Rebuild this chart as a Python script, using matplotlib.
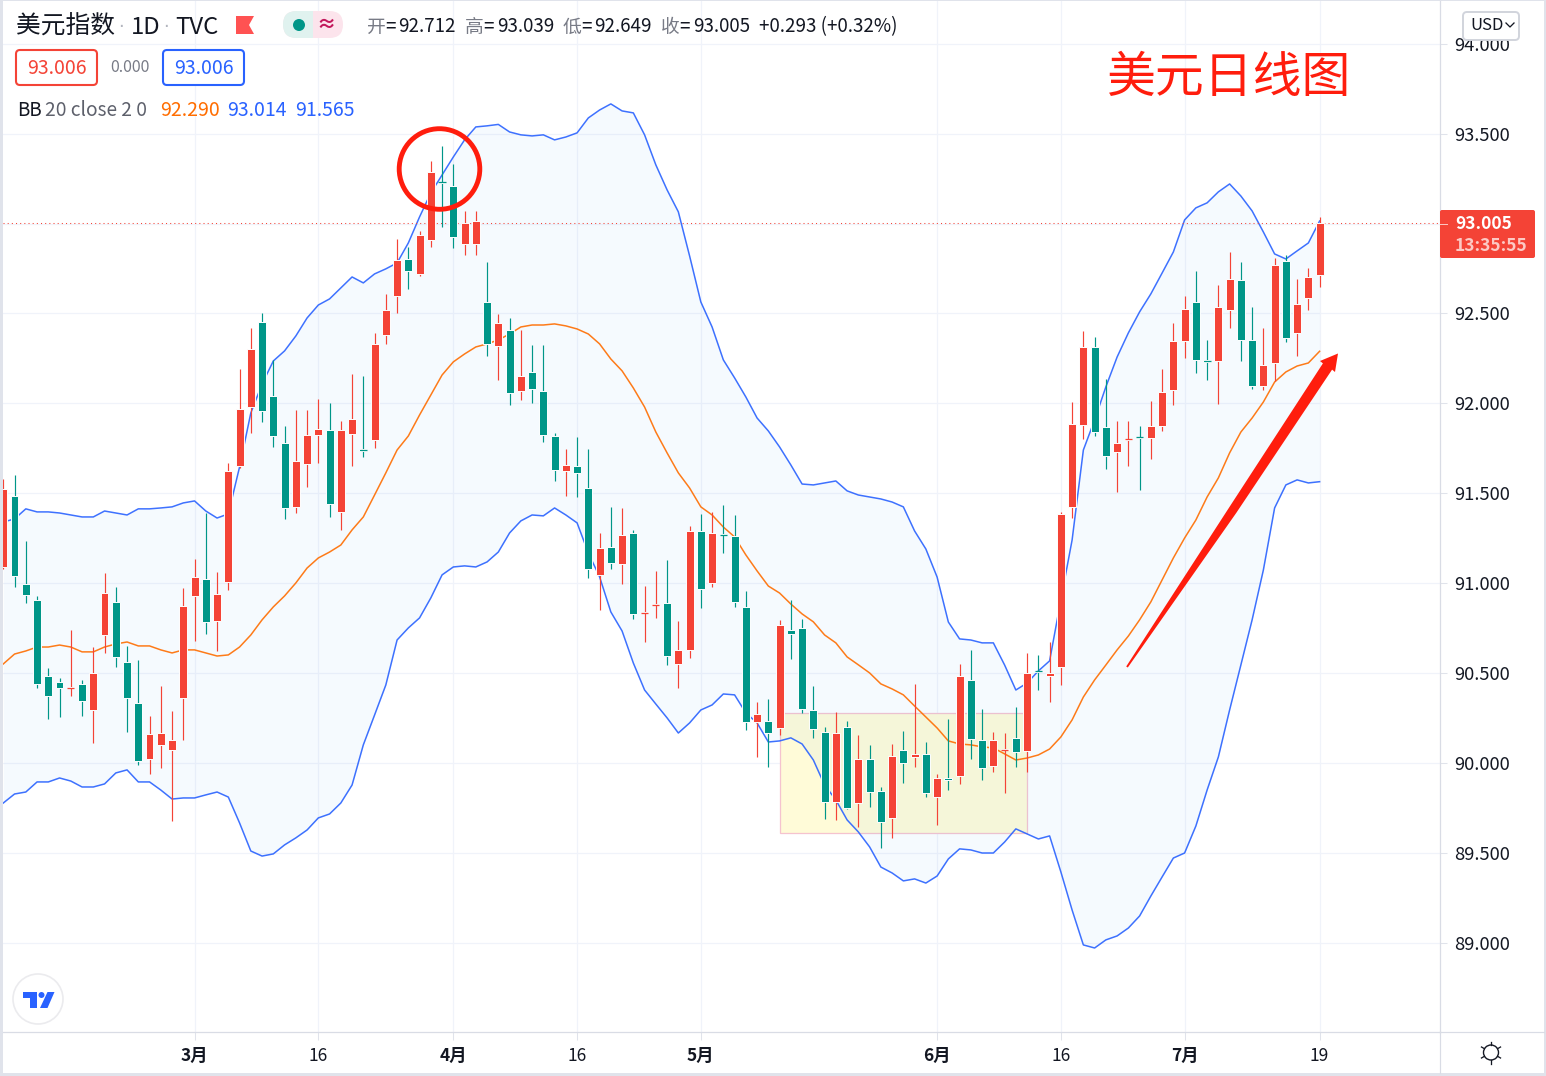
import matplotlib
matplotlib.use('Agg')
import matplotlib.pyplot as plt
import numpy as np
from matplotlib.patches import Circle, FancyBboxPatch, Polygon, Rectangle
from matplotlib.lines import Line2D
from matplotlib.transforms import IdentityTransform

plt.rcParams['font.family'] = ['Noto Sans CJK SC', 'DejaVu Sans']

# velas diarias, valores
opens = [91.091, 91.486, 90.997, 90.908, 90.486, 90.452, 90.416, 90.441, 90.296, 90.713,
         90.897, 90.563, 90.335, 90.024, 90.102, 90.074, 90.363, 90.930, 91.025, 90.791,
         91.008, 91.652, 91.980, 92.453, 92.042, 91.780, 91.425, 91.664, 91.825, 91.853,
         91.397, 91.830, 91.744, 91.797, 92.381, 92.597, 92.803, 92.720, 92.909, 93.232,
         93.209, 92.887, 92.887, 92.564, 92.319, 92.408, 92.069, 92.175, 92.069, 91.819,
         91.625, 91.652, 91.530, 91.047, 91.202, 91.108, 91.280, 90.833, 90.878, 90.891,
         90.552, 90.630, 91.291, 91.002, 91.272, 91.263, 90.869, 90.230, 90.235, 90.196,
         90.741, 90.752, 90.296, 90.174, 89.785, 90.202, 89.780, 90.024, 89.846, 89.696,
         90.074, 90.035, 90.052, 89.813, 89.919, 89.930, 90.463, 90.129, 89.985, 90.071,
         90.141, 90.069, 90.513, 90.486, 90.535, 91.425, 91.880, 92.314, 91.869, 91.730,
         91.797, 91.814, 91.808, 91.875, 92.075, 92.347, 92.564, 92.239, 92.236, 92.520,
         92.686, 92.353, 92.097, 92.225, 92.792, 92.392, 92.586, 92.712]
highs = [91.580, 91.602, 91.236, 90.930, 90.530, 90.475, 90.741, 90.463, 90.646, 91.058,
         90.980, 90.652, 90.574, 90.263, 90.430, 90.291, 90.975, 91.136, 91.392, 91.063,
         91.669, 92.192, 92.419, 92.503, 92.242, 91.875, 91.964, 91.964, 92.025, 92.003,
         91.903, 92.164, 92.153, 92.392, 92.609, 92.914, 92.870, 92.959, 93.348, 93.431,
         93.331, 93.070, 93.070, 92.786, 92.497, 92.475, 92.408, 92.325, 92.325, 91.836,
         91.747, 91.814, 91.747, 91.280, 91.425, 91.419, 91.297, 90.985, 91.069, 91.130,
         90.791, 91.319, 91.386, 91.397, 91.436, 91.380, 90.958, 90.341, 90.358, 90.797,
         90.908, 90.802, 90.430, 90.202, 90.285, 90.235, 90.157, 90.102, 89.868, 90.107,
         90.180, 90.441, 90.118, 89.941, 90.246, 90.552, 90.630, 90.302, 90.174, 90.168,
         90.313, 90.613, 90.602, 90.674, 91.397, 92.008, 92.403, 92.370, 92.136, 91.903,
         91.903, 91.875, 92.014, 92.192, 92.447, 92.597, 92.736, 92.353, 92.659, 92.842,
         92.786, 92.536, 92.419, 92.808, 92.825, 92.692, 92.753, 93.039]
lows = [91.080, 90.980, 90.891, 90.419, 90.246, 90.257, 90.374, 90.263, 90.113, 90.613,
        90.535, 90.174, 89.991, 89.941, 89.974, 89.679, 90.129, 90.680, 90.719, 90.624,
        90.963, 91.641, 91.836, 91.897, 91.758, 91.358, 91.392, 91.536, 91.669, 91.369,
        91.297, 91.652, 91.703, 91.753, 92.331, 92.503, 92.636, 92.709, 92.870, 92.981,
        92.865, 92.825, 92.825, 92.264, 92.130, 91.992, 92.019, 92.003, 91.786, 91.569,
        91.486, 91.480, 91.030, 90.852, 91.080, 90.997, 90.802, 90.674, 90.808, 90.547,
        90.419, 90.586, 90.863, 90.980, 91.169, 90.869, 90.185, 90.035, 89.980, 90.157,
        90.580, 90.280, 90.141, 89.690, 89.685, 89.746, 89.646, 89.757, 89.529, 89.585,
        89.891, 89.980, 89.813, 89.657, 89.851, 89.885, 90.024, 89.907, 89.952, 89.835,
        89.980, 89.952, 90.407, 90.341, 90.435, 91.364, 91.803, 91.819, 91.636, 91.508,
        91.652, 91.519, 91.691, 91.847, 91.992, 92.253, 92.170, 92.130, 91.997, 92.419,
        92.236, 92.080, 92.075, 92.125, 92.342, 92.264, 92.520, 92.649]
closes = [91.524, 91.041, 90.936, 90.441, 90.374, 90.419, 90.424, 90.347, 90.502, 90.947,
          90.591, 90.363, 90.013, 90.163, 90.168, 90.129, 90.875, 91.036, 90.786, 90.941,
          91.625, 91.969, 92.303, 91.958, 91.819, 91.419, 91.680, 91.825, 91.858, 91.441,
          91.853, 91.914, 91.738, 92.331, 92.520, 92.797, 92.736, 92.937, 93.287, 93.226,
          92.926, 93.003, 93.014, 92.331, 92.447, 92.058, 92.153, 92.080, 91.825, 91.630,
          91.658, 91.614, 91.080, 91.197, 91.113, 91.269, 90.830, 90.839, 90.884, 90.597,
          90.630, 91.291, 90.969, 91.280, 91.266, 90.897, 90.230, 90.274, 90.169, 90.769,
          90.719, 90.302, 90.191, 89.785, 90.168, 89.751, 90.024, 89.840, 89.674, 90.041,
          90.002, 90.052, 89.835, 89.919, 89.907, 90.486, 90.135, 89.974, 90.129, 90.077,
          90.063, 90.502, 90.507, 90.502, 91.386, 91.886, 92.314, 91.841, 91.708, 91.780,
          91.803, 91.808, 91.875, 92.064, 92.347, 92.525, 92.242, 92.233, 92.536, 92.692,
          92.353, 92.097, 92.214, 92.770, 92.364, 92.553, 92.703, 93.005]

# bandas de Bollinger
bb_upper = [91.341, 91.358, 91.414, 91.397, 91.397, 91.391, 91.380, 91.369, 91.369, 91.402,
            91.391, 91.380, 91.414, 91.414, 91.419, 91.425, 91.447, 91.458, 91.402, 91.363,
            91.386, 91.647, 91.947, 92.108, 92.236, 92.292, 92.375, 92.475, 92.547, 92.581,
            92.642, 92.703, 92.670, 92.720, 92.748, 92.781, 92.892, 93.037, 93.170, 93.270,
            93.370, 93.465, 93.537, 93.543, 93.551, 93.509, 93.493, 93.487, 93.493, 93.465,
            93.481, 93.504, 93.587, 93.631, 93.665, 93.626, 93.615, 93.493, 93.326, 93.187,
            93.065, 92.820, 92.564, 92.425, 92.242, 92.142, 92.036, 91.919, 91.847, 91.758,
            91.658, 91.552, 91.547, 91.558, 91.569, 91.514, 91.491, 91.480, 91.469, 91.452,
            91.425, 91.291, 91.191, 91.035, 90.785, 90.691, 90.685, 90.669, 90.669, 90.546,
            90.407, 90.446, 90.513, 90.569, 90.908, 91.241, 91.741, 91.908, 92.092, 92.258,
            92.392, 92.509, 92.609, 92.725, 92.842, 93.020, 93.087, 93.115, 93.176, 93.220,
            93.153, 93.070, 92.953, 92.831, 92.803, 92.848, 92.892, 93.014]
bb_mid = [90.552, 90.607, 90.624, 90.646, 90.646, 90.657, 90.646, 90.619, 90.619, 90.646,
          90.663, 90.674, 90.652, 90.652, 90.630, 90.613, 90.630, 90.630, 90.613, 90.596,
          90.602, 90.646, 90.713, 90.797, 90.869, 90.930, 91.002, 91.085, 91.141, 91.174,
          91.213, 91.297, 91.369, 91.491, 91.614, 91.741, 91.819, 91.936, 92.047, 92.158,
          92.231, 92.275, 92.314, 92.331, 92.353, 92.386, 92.425, 92.436, 92.436, 92.442,
          92.431, 92.414, 92.386, 92.331, 92.247, 92.181, 92.086, 91.980, 91.841, 91.725,
          91.614, 91.530, 91.425, 91.380, 91.313, 91.258, 91.158, 91.069, 90.985, 90.946,
          90.885, 90.830, 90.786, 90.713, 90.669, 90.591, 90.547, 90.502, 90.441, 90.413,
          90.380, 90.318, 90.257, 90.196, 90.124, 90.107, 90.102, 90.091, 90.085, 90.052,
          90.018, 90.029, 90.046, 90.079, 90.146, 90.241, 90.368, 90.463, 90.546, 90.630,
          90.707, 90.797, 90.897, 91.019, 91.141, 91.252, 91.352, 91.480, 91.586, 91.725,
          91.841, 91.919, 92.008, 92.119, 92.175, 92.208, 92.225, 92.290]
bb_lower = [89.779, 89.829, 89.840, 89.896, 89.896, 89.918, 89.901, 89.868, 89.868, 89.885,
            89.946, 89.963, 89.896, 89.896, 89.851, 89.801, 89.807, 89.807, 89.824, 89.840,
            89.812, 89.668, 89.512, 89.484, 89.496, 89.546, 89.585, 89.629, 89.696, 89.718,
            89.779, 89.879, 90.102, 90.268, 90.435, 90.685, 90.752, 90.808, 90.919, 91.047,
            91.091, 91.097, 91.091, 91.119, 91.174, 91.280, 91.347, 91.380, 91.375, 91.419,
            91.380, 91.336, 91.169, 91.036, 90.841, 90.735, 90.557, 90.407, 90.329, 90.252,
            90.168, 90.224, 90.296, 90.324, 90.385, 90.380, 90.280, 90.224, 90.118, 90.124,
            90.141, 90.107, 90.018, 89.879, 89.796, 89.685, 89.618, 89.535, 89.423, 89.390,
            89.346, 89.357, 89.334, 89.373, 89.468, 89.524, 89.518, 89.501, 89.501, 89.562,
            89.635, 89.607, 89.579, 89.596, 89.396, 89.184, 88.990, 88.973, 89.018, 89.040,
            89.084, 89.151, 89.262, 89.368, 89.473, 89.501, 89.651, 89.851, 90.035, 90.296,
            90.546, 90.797, 91.074, 91.419, 91.547, 91.575, 91.558, 91.565]

# ejes
price_ticks = [89.0, 89.5, 90.0, 90.5, 91.0, 91.5, 92.0, 92.5, 93.0, 93.5, 94.0]
date_pos = [17, 28, 40, 51, 62, 83, 94, 105, 117]
date_labels = ['3月', '16', '4月', '16', '5月', '6月', '16', '7月', '19']

# recuadro amarillo (indices de velas y precios)
box_start, box_end = 69, 91
box_low, box_high = 89.611, 90.278

RED = '#f44336'
GREEN = '#009688'
BLUE = '#2962ff'
ORANGE = '#ff6d00'
DARK = '#131722'
GREY = '#787b86'
BORDER = '#e0e3eb'
GRID = '#f0f3fa'
MARK = '#ff1d0d'

W, H = 1546, 1076
fig = plt.figure(figsize=(W / 100, H / 100), dpi=100, facecolor=BORDER)
pix = IdentityTransform()


def add_text(x, y, s, **kw):
    kw.setdefault('va', 'center')
    kw.setdefault('color', DARK)
    kw.setdefault('fontsize', 13.5)
    fig.text(x, H - y - 1, s, transform=pix, **kw)


def add_line(xs, ys, color, lw=1.0):
    fig.add_artist(Line2D(xs, [H - v for v in ys], color=color, lw=lw * 0.72, transform=pix))


# fondo blanco
fig.add_artist(Rectangle((3, H - 1073), 1541, 1072, facecolor='white', edgecolor='none',
                         transform=pix, zorder=-1))

# area del grafico en pixeles: x 3-1440, y 1-1032
ax = fig.add_axes([3 / W, (H - 1032) / H, 1437 / W, 1031 / H], facecolor='none')
ax.set_xlim(-0.027, 127.7)
ax.set_ylim(88.506, 94.237)

x = np.arange(len(closes))
o = np.array(opens)
c = np.array(closes)
colors = np.where(c >= o, RED, GREEN)

ax.add_patch(Rectangle((box_start, box_low), box_end - box_start, box_high - box_low,
                       facecolor='#fffbd8', edgecolor='#f5c3cf', lw=0.9, zorder=1))
ax.fill_between(x, bb_lower, bb_upper, color='#2196f3', alpha=0.045, lw=0, zorder=2)
ax.plot(x, bb_upper, color=BLUE, lw=1.1, alpha=0.9, zorder=3)
ax.plot(x, bb_lower, color=BLUE, lw=1.1, alpha=0.9, zorder=3)
ax.plot(x, bb_mid, color=ORANGE, lw=1.1, alpha=0.9, zorder=3)

# velas
ax.vlines(x, lows, highs, colors=colors, lw=0.85, zorder=4)
ax.bar(x, np.abs(c - o), bottom=np.minimum(o, c), width=0.7, color=colors,
       edgecolor='white', linewidth=0.7, zorder=5)
doji = np.abs(c - o) < 0.012
ax.hlines(((o + c) / 2)[doji], x[doji] - 0.32, x[doji] + 0.32, colors=colors[doji], lw=0.9, zorder=6)

ax.axhline(closes[-1], color=RED, lw=0.75, ls=(0, (1, 3)), zorder=3)

# la etiqueta 93.000 queda tapada por el precio actual
ax.set_yticks(price_ticks)
ax.set_yticklabels(['' if v == 93.0 else '%.3f' % v for v in price_ticks], va='center_baseline')
ax.yaxis.tick_right()
ax.set_xticks(date_pos)
ax.set_xticklabels(date_labels)
ax.grid(True, color=GRID, lw=0.9, zorder=0)
ax.set_axisbelow(True)
ax.tick_params(axis='y', length=5, width=0.75, color=BORDER, labelsize=13.2, labelcolor=DARK, pad=5)
ax.tick_params(axis='x', length=5.5, width=0.75, color=BORDER, labelsize=12.5, labelcolor=DARK, pad=5.5)
for lab, name in zip(ax.get_xticklabels(), date_labels):
    if '月' in name:
        lab.set_fontweight('bold')
for s in ['top', 'left']:
    ax.spines[s].set_visible(False)
for s in ['right', 'bottom']:
    ax.spines[s].set_color('#d9dce5')
    ax.spines[s].set_linewidth(0.9)

add_line([1440, 1440], [1032, 1073], '#d9dce5', 1.2)
add_line([1440, 1544], [1032, 1032], '#d9dce5', 1.2)

# cabecera
add_text(16, 26, '美元指数', fontsize=17.8)
add_text(121, 26, '·', fontsize=13, color='#b2b5be', ha='center', family='DejaVu Sans')
add_text(131, 26, '1D', fontsize=17.2)
add_text(166, 26, '·', fontsize=13, color='#b2b5be', ha='center', family='DejaVu Sans')
add_text(175, 26, 'TVC', fontsize=17.2)
fig.add_artist(Polygon([(236, H - 16), (254, H - 16), (249, H - 25), (254, H - 34), (236, H - 34)],
                       facecolor='#ff5252', edgecolor='none', transform=pix))

pill = FancyBboxPatch((283, H - 38), 60, 27, boxstyle='round,pad=0,rounding_size=13.5',
                      facecolor='#fce4ec', edgecolor='none', transform=pix)
fig.add_artist(pill)
pill_left = FancyBboxPatch((283, H - 38), 60, 27, boxstyle='round,pad=0,rounding_size=13.5',
                           facecolor='#e0f2ef', edgecolor='none', transform=pix)
fig.add_artist(pill_left)
pill_left.set_clip_path(Rectangle((283, H - 38), 30, 27, transform=pix))
fig.add_artist(Circle((299, H - 25), 6, facecolor='#009688', edgecolor='none', transform=pix))
add_text(326, 25, '≈', fontsize=14, color='#c2185b', ha='center', fontweight='bold')

for px_lab, px_end, lab, val in [(367, 456, '开', '92.712'), (465, 554, '高', '93.039'),
                                 (563, 652, '低', '92.649'), (661, 750, '收', '93.005')]:
    add_text(px_lab, 26, lab, color=GREY)
    add_text(px_lab + 18, 26, '=')
    add_text(px_end, 26, val, ha='right')
add_text(759, 26, '+0.293 (+0.32%)')

fig.add_artist(FancyBboxPatch((16, H - 85), 81, 35, boxstyle='round,pad=0,rounding_size=4',
                              facecolor='white', edgecolor=RED, lw=1.5, transform=pix))
add_text(56.5, 67, '93.006', color=RED, ha='center', fontsize=14)
add_text(130, 66, '0.000', color=GREY, ha='center', fontsize=11.5)
fig.add_artist(FancyBboxPatch((163, H - 85), 81, 35, boxstyle='round,pad=0,rounding_size=4',
                              facecolor='white', edgecolor=BLUE, lw=1.5, transform=pix))
add_text(203.5, 67, '93.006', color=BLUE, ha='center', fontsize=14)

add_text(17, 109, 'BB')
add_text(45, 109, '20 close 2 0', color='#5d606b', fontsize=13.8)
add_text(160, 109, '92.290', color=ORANGE, fontsize=14)
add_text(227, 109, '93.014', color=BLUE, fontsize=14)
add_text(295, 109, '91.565', color=BLUE, fontsize=14)

# titulo rojo
add_text(1107, 77, '美元日线图', color=MARK, fontsize=35.2)

# circulo y flecha
fig.add_artist(Circle((439.5, H - 169), 40.3, facecolor='none', edgecolor=MARK, lw=3.5, transform=pix))
arrow = [(1126.2, 666.5), (1228.8, 508), (1322.9, 363.4), (1320, 361), (1338, 353.5), (1335, 372),
         (1332.1, 369.6), (1236.2, 513), (1127.8, 667.5)]
fig.add_artist(Polygon([(a, H - b) for a, b in arrow], facecolor=MARK, edgecolor='none', transform=pix))

# etiqueta de precio
fig.add_artist(FancyBboxPatch((1440, H - 258), 95, 48, boxstyle='round,pad=0,rounding_size=2',
                              facecolor=RED, edgecolor='none', transform=pix))
add_line([1440, 1447], [223.5, 223.5], '#fbc4bf', 1)
add_text(1455, 223, '93.005', color='white', fontweight='bold', fontsize=12.5)
add_text(1455, 245, '13:35:55', color='#fcc9c4', fontweight='bold', fontsize=12.5)

# boton USD
fig.add_artist(FancyBboxPatch((1463, H - 40), 56, 28, boxstyle='round,pad=0,rounding_size=4',
                              facecolor='white', edgecolor='#d1d4dc', lw=1.4, transform=pix))
add_text(1470, 25, 'USD', fontsize=12)
add_line([1506, 1510, 1514], [23, 27, 23], DARK, 1.3)

# logo TV
fig.add_artist(Circle((38, H - 999), 25, facecolor='white', edgecolor='#ebebee', lw=1.2, transform=pix))
fig.add_artist(Polygon([(23, H - 992), (37, H - 992), (37, H - 1008), (30, H - 1008), (30, H - 998), (23, H - 998)],
                       facecolor=BLUE, edgecolor='none', transform=pix))
fig.add_artist(Circle((41.5, H - 995), 3, facecolor=BLUE, edgecolor='none', transform=pix))
fig.add_artist(Polygon([(47.5, H - 992), (54.5, H - 992), (47.5, H - 1008), (40, H - 1008)],
                       facecolor=BLUE, edgecolor='none', transform=pix))

# engranaje
gx, gy = 1491, 1052.5
fig.add_artist(Circle((gx, H - gy), 7.5, facecolor='none', edgecolor=DARK, lw=1, transform=pix))
for ang in np.arange(0, 360, 60) + 30:
    dx, dy = np.cos(np.radians(ang)), np.sin(np.radians(ang))
    add_line([gx + 7.5 * dx, gx + 11 * dx], [gy + 7.5 * dy, gy + 11 * dy], DARK, 1.3)

fig.savefig('out.png', dpi=100, facecolor=fig.get_facecolor())
